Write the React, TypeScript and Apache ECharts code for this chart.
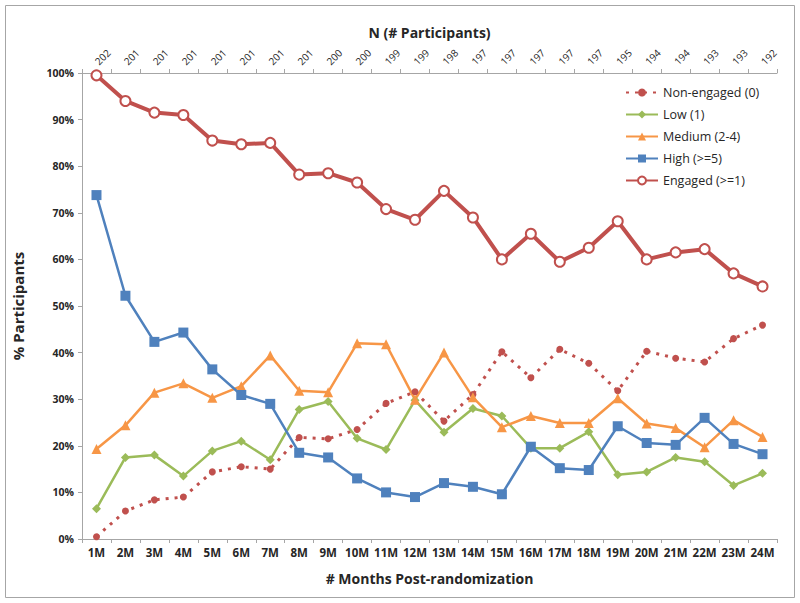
import React, { useEffect, useRef } from "react";
import * as echarts from "echarts";

const months = ["1M","2M","3M","4M","5M","6M","7M","8M","9M","10M","11M","12M","13M","14M","15M","16M","17M","18M","19M","20M","21M","22M","23M","24M"];
const participants = ["202","201","201","201","201","201","201","201","200","200","199","199","198","197","197","197","197","197","195","194","194","193","193","192"];
const nonEngaged = [0.5, 6, 8.4, 9, 14.4, 15.5, 15, 21.8, 21.5, 23.5, 29.1, 31.6, 25.3, 31, 40.2, 34.6, 40.7, 37.7, 31.8, 40.3, 38.8, 38, 43, 45.9];
const low = [6.5, 17.5, 18, 13.5, 18.9, 21, 17, 27.8, 29.5, 21.6, 19.2, 29.8, 22.9, 28, 26.4, 19.5, 19.5, 23, 13.8, 14.4, 17.5, 16.6, 11.5, 14.1];
const medium = [19.3, 24.4, 31.4, 33.4, 30.3, 32.8, 39.4, 31.8, 31.5, 42, 41.8, 29.9, 40, 30.4, 24, 26.4, 24.9, 24.9, 30.2, 24.8, 23.8, 19.7, 25.5, 21.9];
const high = [73.8, 52.2, 42.3, 44.3, 36.4, 30.9, 29, 18.5, 17.5, 13, 10, 9, 12, 11.2, 9.6, 19.8, 15.2, 14.8, 24.2, 20.6, 20.2, 26, 20.4, 18.2];
const engaged = [99.5, 94, 91.5, 91, 85.5, 84.7, 85, 78.2, 78.5, 76.5, 70.8, 68.5, 74.7, 69, 60, 65.5, 59.5, 62.5, 68.2, 60, 61.5, 62.2, 57, 54.2];

const RED = "#C0504D";
const GREEN = "#9BBB59";
const ORANGE = "#F79646";
const BLUE = "#4F81BD";
const FONT = "Open Sans";
const TXT = "#262626";

export default function App() {
  const ref = useRef<HTMLDivElement>(null);
  useEffect(() => {
    if (!ref.current) return;
    const chart = echarts.init(ref.current, null, { renderer: "svg" });
    const axisLine = { show: true, lineStyle: { color: "#A6A6A6", width: 1 } };
    chart.setOption({
      animation: false,
      backgroundColor: "#ffffff",
      textStyle: { fontFamily: FONT },
      graphic: [
        { type: "rect", shape: { x: 5.5, y: 5.5, width: 789, height: 592 }, style: { fill: "none", stroke: "#A6A6A6", lineWidth: 1 }, silent: true },
      ],
      grid: { left: 82, right: 23, top: 73, bottom: 64, containLabel: false },
      legend: {
        orient: "vertical",
        left: 620,
        top: 81,
        itemWidth: 32,
        itemHeight: 10,
        itemGap: 9,
        textStyle: { fontFamily: FONT, fontSize: 12.5, color: TXT },
        data: ["Non-engaged (0)", "Low (1)", "Medium (2-4)", "High (>=5)", "Engaged (>=1)"],
      },
      xAxis: [
        {
          type: "category",
          data: months,
          position: "bottom",
          boundaryGap: true,
          axisLine,
          axisTick: { show: true, length: 4, lineStyle: { color: "#A6A6A6" } },
          axisLabel: { fontFamily: FONT, fontWeight: "bold", fontSize: 11.5, color: TXT, margin: 7, interval: 0 },
          name: "# Months Post-randomization",
          nameLocation: "middle",
          nameGap: 32,
          nameTextStyle: { fontFamily: FONT, fontWeight: "bold", fontSize: 14, color: TXT },
        },
        {
          type: "category",
          data: participants,
          position: "top",
          boundaryGap: true,
          axisLine,
          axisTick: { show: true, length: 4, lineStyle: { color: "#A6A6A6" } },
          axisLabel: { fontFamily: FONT, fontSize: 10, color: TXT, rotate: -45, margin: 10, interval: 0, align: "left", verticalAlign: "middle" },
          name: "N (# Participants)",
          nameLocation: "middle",
          nameGap: 34,
          nameTextStyle: { fontFamily: FONT, fontWeight: "bold", fontSize: 14, color: TXT },
        },
      ],
      yAxis: {
        type: "value",
        min: 0,
        max: 100,
        interval: 10,
        axisLine,
        axisTick: { show: true, length: 4, lineStyle: { color: "#A6A6A6" } },
        splitLine: { show: false },
        axisLabel: { fontFamily: FONT, fontWeight: "bold", fontSize: 10.5, color: TXT, formatter: "{value}%", margin: 8 },
        name: "% Participants",
        nameLocation: "middle",
        nameGap: 57,
        nameRotate: 90,
        nameTextStyle: { fontFamily: FONT, fontWeight: "bold", fontSize: 15, color: TXT },
      },
      series: [
        {
          name: "Non-engaged (0)", type: "line", data: nonEngaged, xAxisIndex: 0,
          symbol: "circle", symbolSize: 7,
          lineStyle: { color: RED, width: 3, type: [3, 6] }, itemStyle: { color: RED },
        },
        {
          name: "Low (1)", type: "line", data: low, xAxisIndex: 0,
          symbol: "diamond", symbolSize: 9,
          lineStyle: { color: GREEN, width: 2.5 }, itemStyle: { color: GREEN },
        },
        {
          name: "Medium (2-4)", type: "line", data: medium, xAxisIndex: 0,
          symbol: "triangle", symbolSize: 10,
          lineStyle: { color: ORANGE, width: 2.5 }, itemStyle: { color: ORANGE },
        },
        {
          name: "High (>=5)", type: "line", data: high, xAxisIndex: 0,
          symbol: "rect", symbolSize: 10,
          lineStyle: { color: BLUE, width: 2.5 }, itemStyle: { color: BLUE },
        },
        {
          name: "Engaged (>=1)", type: "line", data: engaged, xAxisIndex: 0,
          symbol: "emptyCircle", symbolSize: 10,
          lineStyle: { color: RED, width: 4 }, itemStyle: { color: RED, borderColor: RED, borderWidth: 1.5 },
        },
      ],
    });
    return () => chart.dispose();
  }, []);
  return <div ref={ref} style={{ position: "absolute", left: 0, top: 0, width: 800, height: 603 }} />;
}
